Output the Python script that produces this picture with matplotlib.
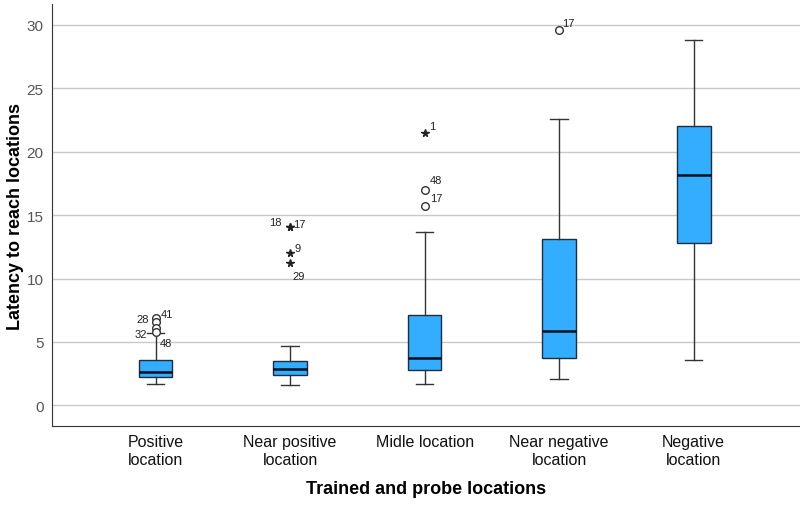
import matplotlib.pyplot as plt

plt.rcParams['font.family'] = ['Liberation Sans', 'DejaVu Sans']

# 데이터
categories = ['Positive\nlocation', 'Near positive\nlocation', 'Midle location',
              'Near negative\nlocation', 'Negative\nlocation']
whis_low = [1.65, 1.6, 1.7, 2.1, 3.6]
q1 = [2.2, 2.4, 2.8, 3.75, 12.8]
medians = [2.6, 2.85, 3.7, 5.9, 18.2]
q3 = [3.55, 3.5, 7.1, 13.1, 22.0]
whis_high = [5.7, 4.7, 13.7, 22.6, 28.8]

# 이상치: (그룹 번호, 값, 라벨, 기호)
outlier_group = [1, 1, 1, 1, 2, 2, 2, 2, 3, 3, 3, 4]
outlier_value = [6.9, 6.6, 6.1, 5.8, 14.05, 14.1, 12.0, 11.2, 21.5, 17.0, 15.7, 29.6]
outlier_label = ['41', '28', '32', '48', '18', '17', '9', '29', '1', '48', '17', '17']
outlier_kind = ['o', 'o', 'o', 'o', '*', '*', '*', '*', '*', 'o', 'o', 'o']

fig = plt.figure(figsize=(8, 5.06), dpi=100)
ax = fig.add_axes([0.065, 0.156, 0.935, 0.834])

stats = []
for i in range(len(categories)):
    stats.append({'med': medians[i], 'q1': q1[i], 'q3': q3[i],
                  'whislo': whis_low[i], 'whishi': whis_high[i], 'fliers': []})

positions = list(range(1, len(categories) + 1))
ax.bxp(stats, positions=positions, widths=0.25, patch_artist=True, showfliers=False,
       boxprops=dict(facecolor='#33adff', edgecolor='#1f2d3d', linewidth=1.0),
       medianprops=dict(color='#0a0f1a', linewidth=1.8),
       whiskerprops=dict(color='#333333', linewidth=1.0),
       capprops=dict(color='#333333', linewidth=1.0),
       capwidths=0.13, zorder=3)

# 이상치 그리기
for g, v, kind in zip(outlier_group, outlier_value, outlier_kind):
    if kind == 'o':
        ax.plot(g, v, 'o', mfc='white', mec='#333333', ms=5.5, mew=1.0, zorder=4)
    else:
        ax.plot(g, v, '*', color='#222222', ms=5.5, zorder=4)

# 이상치 라벨 위치 (오프셋, 포인트 단위)
label_side = {('1', '41'): (4, 3), ('1', '28'): (-14, 2), ('1', '32'): (-15, -4),
              ('1', '48'): (3, -8), ('2', '18'): (-15, 4), ('2', '17'): (2, 2),
              ('2', '9'): (3, 4), ('2', '29'): (2, -9), ('3', '1'): (3, 5),
              ('3', '48'): (4, 7), ('3', '17'): (4, 6), ('4', '17'): (2, 5)}
for g, v, lab in zip(outlier_group, outlier_value, outlier_label):
    dx, dy = label_side[(str(g), lab)]
    ax.annotate(lab, (g, v), xytext=(dx, dy), textcoords='offset points',
                fontsize=8, color='#222222', va='center', ha='left')

ax.set_xlim(0.23, 5.79)
ax.set_ylim(-1.63, 31.65)
ax.set_yticks([0, 5, 10, 15, 20, 25, 30])
ax.yaxis.grid(True, color='#c8c8c8', linewidth=1.0, zorder=0)
ax.set_axisbelow(True)
ax.set_xticks(positions)
ax.set_xticklabels(categories, fontsize=11.5, color='#111111', linespacing=1.25)
ax.tick_params(axis='both', length=0)
ax.tick_params(axis='y', labelsize=11, labelcolor='#555555', pad=6)
ax.tick_params(axis='x', pad=6)

for s in ['top', 'right']:
    ax.spines[s].set_visible(False)
ax.spines['left'].set_color('#333333')
ax.spines['bottom'].set_color('#333333')

ax.set_xlabel('Trained and probe locations', fontsize=13, fontweight='bold', labelpad=9)
ax.set_ylabel('Latency to reach locations', fontsize=13, fontweight='bold', labelpad=2)

fig.savefig('out.png', dpi=100)
